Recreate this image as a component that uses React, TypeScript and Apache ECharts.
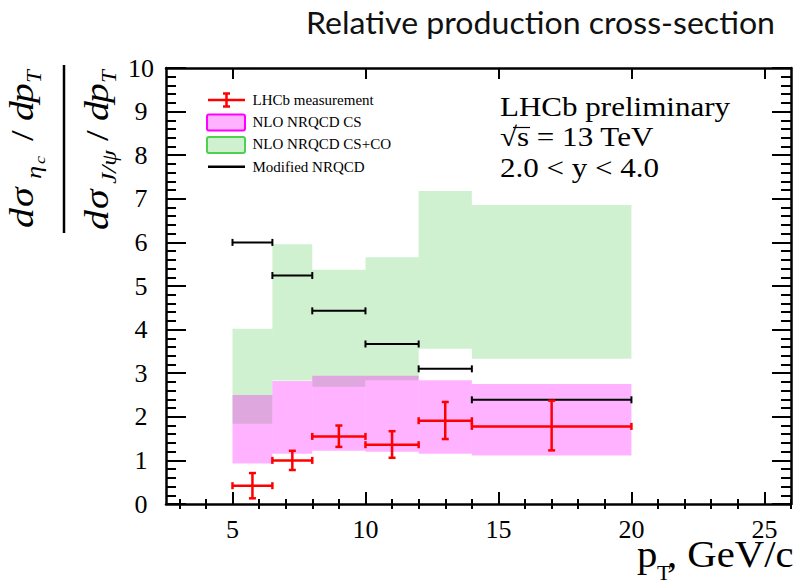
import { useEffect, useRef } from "react";
import * as echarts from "echarts";

// pT bins (GeV/c)
const binLow = [5, 6.5, 8, 10, 12, 14];
const binHigh = [6.5, 8, 10, 12, 14, 20];

// NLO NRQCD, colour-singlet only
const csLow = [0.93, 1.15, 1.22, 1.2, 1.15, 1.11];
const csHigh = [2.5, 2.82, 2.94, 2.94, 2.84, 2.75];

// NLO NRQCD, colour-singlet + colour-octet
const csCoLow = [1.84, 2.83, 2.69, 2.84, 3.56, 3.33];
const csCoHigh = [4.02, 5.96, 5.37, 5.66, 7.18, 6.86];

// Modified NRQCD prediction
const modifiedNrqcd = [6.0, 5.24, 4.43, 3.67, 3.1, 2.39];

// LHCb measurement
const ptCentre = [5.75, 7.25, 9.0, 11.0, 13.0, 17.0];
const ratio = [0.42, 1.0, 1.55, 1.36, 1.91, 1.78];
const ratioLow = [0.13, 0.78, 1.31, 1.06, 1.49, 1.23];
const ratioHigh = [0.71, 1.22, 1.8, 1.67, 2.34, 2.37];

// axis ticks
const xMajorTicks = [5, 10, 15, 20, 25];
const xMinorTicks = [3, 4, 6, 7, 8, 9, 11, 12, 13, 14, 16, 17, 18, 19, 21, 22, 23, 24, 26];

const SERIF = '"Liberation Serif", "Times New Roman", serif';
const BLACK = "#000000";
const RED = "#ff0000";
const PINK_FILL = "rgba(255, 0, 255, 0.3)";
const GREEN_FILL = "rgba(40, 190, 40, 0.22)";

function bandRenderer(fill: string) {
  return (_params: any, api: any) => {
    const topLeft = api.coord([api.value(0), api.value(3)]);
    const bottomRight = api.coord([api.value(1), api.value(2)]);
    return {
      type: "rect",
      shape: {
        x: topLeft[0],
        y: topLeft[1],
        width: bottomRight[0] - topLeft[0],
        height: bottomRight[1] - topLeft[1],
      },
      style: { fill },
    };
  };
}

function seg(x1: number, y1: number, x2: number, y2: number, stroke: string, lineWidth: number) {
  return { type: "line", shape: { x1, y1, x2, y2 }, style: { stroke, lineWidth } };
}

function modifiedRenderer(_params: any, api: any) {
  const a = api.coord([api.value(0), api.value(2)]);
  const b = api.coord([api.value(1), api.value(2)]);
  const cap = 3.5;
  return {
    type: "group",
    children: [
      seg(a[0], a[1], b[0], b[1], BLACK, 2),
      seg(a[0], a[1] - cap, a[0], a[1] + cap, BLACK, 2),
      seg(b[0], b[1] - cap, b[0], b[1] + cap, BLACK, 2),
    ],
  };
}

function measurementRenderer(_params: any, api: any) {
  const x = api.value(0);
  const y = api.value(1);
  const left = api.coord([api.value(2), y]);
  const right = api.coord([api.value(3), y]);
  const low = api.coord([x, api.value(4)]);
  const high = api.coord([x, api.value(5)]);
  const cap = 3.5;
  const w = 2.5;
  return {
    type: "group",
    children: [
      seg(left[0], left[1], right[0], right[1], RED, w),
      seg(low[0], low[1], high[0], high[1], RED, w),
      seg(left[0], left[1] - cap, left[0], left[1] + cap, RED, w),
      seg(right[0], right[1] - cap, right[0], right[1] + cap, RED, w),
      seg(low[0] - cap, low[1], low[0] + cap, low[1], RED, w),
      seg(high[0] - cap, high[1], high[0] + cap, high[1], RED, w),
    ],
  };
}

// text token placed by its baseline (zrender centres text on the em box)
function tok(text: string, x: number, baseline: number, size: number, italic = true, scaleX = 1) {
  return {
    type: "text",
    x,
    y: baseline - 0.3375 * size,
    scaleX,
    originX: 0,
    originY: 0.3375 * size,
    style: {
      text,
      font: `${italic ? "italic " : ""}${size}px ${SERIF}`,
      fill: BLACK,
      verticalAlign: "middle",
      align: "left",
    },
  };
}

function buildOption(): any {
  const csData = binLow.map((lo, i) => [lo, binHigh[i], csLow[i], csHigh[i]]);
  const csCoData = binLow.map((lo, i) => [lo, binHigh[i], csCoLow[i], csCoHigh[i]]);
  const modData = binLow.map((lo, i) => [lo, binHigh[i], modifiedNrqcd[i]]);
  const measData = ptCentre.map((x, i) => [x, ratio[i], binLow[i], binHigh[i], ratioLow[i], ratioHigh[i]]);

  const tickLine = { color: BLACK, width: 2 };
  const frameLine = { show: true, onZero: false, lineStyle: { color: BLACK, width: 2.5 } };
  const xBase = { type: "value", min: 2.5, max: 26, splitLine: { show: false } };
  const yBase = { type: "value", min: 0, max: 10, interval: 1, splitLine: { show: false }, minorSplitLine: { show: false } };

  const numBase = 33;
  const denBase = 108;
  const s = 1.2;

  return {
    animation: false,
    backgroundColor: "#ffffff",
    grid: { left: 166, top: 68, width: 625, height: 436, containLabel: false, outerBoundsMode: "none" },
    xAxis: [
      {
        ...xBase,
        position: "bottom",
        axisLine: frameLine,
        axisTick: { show: true, inside: true, length: 12, customValues: xMajorTicks, lineStyle: tickLine },
        axisLabel: { show: true, customValues: xMajorTicks, margin: 12, fontSize: 26, fontFamily: SERIF, color: BLACK },
      },
      {
        ...xBase,
        position: "bottom",
        axisLine: { show: false },
        axisTick: { show: true, inside: true, length: 5, customValues: xMinorTicks, lineStyle: tickLine },
        axisLabel: { show: false },
      },
      {
        ...xBase,
        position: "top",
        axisLine: frameLine,
        axisTick: { show: true, inside: true, length: 11, customValues: xMajorTicks, lineStyle: tickLine },
        axisLabel: { show: false },
      },
      {
        ...xBase,
        position: "top",
        axisLine: { show: false },
        axisTick: { show: true, inside: true, length: 5, customValues: xMinorTicks, lineStyle: tickLine },
        axisLabel: { show: false },
      },
    ],
    yAxis: [
      {
        ...yBase,
        position: "left",
        axisLine: frameLine,
        axisTick: { show: true, inside: true, length: 20, lineStyle: tickLine },
        minorTick: { show: true, splitNumber: 5, length: 10, lineStyle: tickLine },
        axisLabel: { show: true, align: "center", margin: 25, fontSize: 26, fontFamily: SERIF, color: BLACK },
      },
      {
        ...yBase,
        position: "right",
        axisLine: frameLine,
        axisTick: { show: true, inside: true, length: 19, lineStyle: tickLine },
        minorTick: { show: true, splitNumber: 5, length: 10, lineStyle: tickLine },
        axisLabel: { show: false },
      },
    ],
    series: [
      {
        name: "NLO NRQCD CS+CO",
        type: "custom",
        xAxisIndex: 0,
        yAxisIndex: 0,
        renderItem: bandRenderer(GREEN_FILL),
        encode: { x: [0, 1], y: [2, 3] },
        data: csCoData,
        z: 1,
      },
      {
        name: "NLO NRQCD CS",
        type: "custom",
        xAxisIndex: 0,
        yAxisIndex: 0,
        renderItem: bandRenderer(PINK_FILL),
        encode: { x: [0, 1], y: [2, 3] },
        data: csData,
        z: 2,
      },
      {
        name: "Modified NRQCD",
        type: "custom",
        xAxisIndex: 0,
        yAxisIndex: 0,
        renderItem: modifiedRenderer,
        encode: { x: [0, 1], y: 2 },
        data: modData,
        z: 3,
      },
      {
        name: "LHCb measurement",
        type: "custom",
        xAxisIndex: 0,
        yAxisIndex: 0,
        renderItem: measurementRenderer,
        encode: { x: [0, 2, 3], y: [1, 4, 5] },
        data: measData,
        z: 4,
      },
    ],
    graphic: [
      // page title
      {
        type: "text",
        x: 775,
        y: 22,
        scaleX: 1.07,
        silent: true,
        style: {
          text: "Relative production cross-section",
          font: '30px Lato, "Open Sans", sans-serif',
          fill: "#111111",
          align: "right",
          verticalAlign: "middle",
        },
      },
      // y-axis title: ratio of differential cross-sections
      {
        type: "group",
        x: 0,
        y: 230,
        rotation: Math.PI / 2,
        silent: true,
        children: [
          tok("d", 2, numBase, 33, true, s),
          tok("σ", 23, numBase, 33, true, s),
          tok("η", 51, numBase + 8, 22, true, s),
          tok("c", 66, numBase + 12, 15, true, s),
          tok("/", 89, numBase, 32, false, s),
          tok("d", 109, numBase, 33, true, s),
          tok("p", 127, numBase, 33, true, s),
          tok("T", 147, numBase + 8, 21, true, 1.1),

          tok("d", 0, denBase, 33, true, s),
          tok("σ", 21, denBase, 33, true, s),
          tok("J/ψ", 46, denBase + 8, 21, true, s),
          tok("/", 89, denBase, 32, false, s),
          tok("d", 109, denBase, 33, true, s),
          tok("p", 127, denBase, 33, true, s),
          tok("T", 147, denBase + 8, 21, true, 1.1),
        ],
      },
      {
        type: "line",
        silent: true,
        shape: { x1: 64, y1: 65, x2: 64, y2: 233 },
        style: { stroke: BLACK, lineWidth: 2.5 },
      },
      // x-axis title
      tok("p", 637, 567, 37, false, 1.1),
      tok("T", 657, 580, 20, false, 1.1),
      tok(", GeV/c", 667, 567, 37, false, 1.1),
      // experiment labels
      tok("LHCb preliminary", 500, 116, 27, false, 1.15),
      tok("√s = 13 TeV", 500, 146, 27, false, 1.15),
      {
        type: "line",
        silent: true,
        shape: { x1: 513, y1: 127.5, x2: 530, y2: 127.5 },
        style: { stroke: BLACK, lineWidth: 1.2 },
      },
      tok("2.0 < y < 4.0", 500, 177, 27, false, 1.15),
      // legend
      { type: "line", silent: true, shape: { x1: 208, y1: 100, x2: 245, y2: 100 }, style: { stroke: RED, lineWidth: 2.5 } },
      { type: "line", silent: true, shape: { x1: 226.5, y1: 93.5, x2: 226.5, y2: 106.5 }, style: { stroke: RED, lineWidth: 2.5 } },
      { type: "line", silent: true, shape: { x1: 223, y1: 93.5, x2: 230, y2: 93.5 }, style: { stroke: RED, lineWidth: 2.5 } },
      { type: "line", silent: true, shape: { x1: 223, y1: 106.5, x2: 230, y2: 106.5 }, style: { stroke: RED, lineWidth: 2.5 } },
      tok("LHCb measurement", 252.5, 105, 15, false),
      {
        type: "rect",
        silent: true,
        shape: { x: 207, y: 114.5, width: 38, height: 16, r: 2 },
        style: { fill: PINK_FILL, stroke: "#ff00ff", lineWidth: 2 },
      },
      tok("NLO NRQCD CS", 252.5, 127.5, 15, false),
      {
        type: "rect",
        silent: true,
        shape: { x: 207, y: 137, width: 38, height: 16, r: 2 },
        style: { fill: GREEN_FILL, stroke: "#50d050", lineWidth: 2 },
      },
      tok("NLO NRQCD CS+CO", 252.5, 149.5, 15, false),
      { type: "line", silent: true, shape: { x1: 208, y1: 166.7, x2: 245, y2: 166.7 }, style: { stroke: BLACK, lineWidth: 2.5 } },
      tok("Modified NRQCD", 252.5, 172, 15, false),
    ],
  };
}

export default function App() {
  const ref = useRef<HTMLDivElement | null>(null);

  useEffect(() => {
    if (!ref.current) return;
    const chart = echarts.init(ref.current, undefined, { renderer: "svg" });
    chart.setOption(buildOption());
    return () => {
      chart.dispose();
    };
  }, []);

  return (
    <div
      ref={ref}
      style={{ position: "fixed", left: 0, top: 0, width: 795, height: 587, background: "#ffffff" }}
    />
  );
}
